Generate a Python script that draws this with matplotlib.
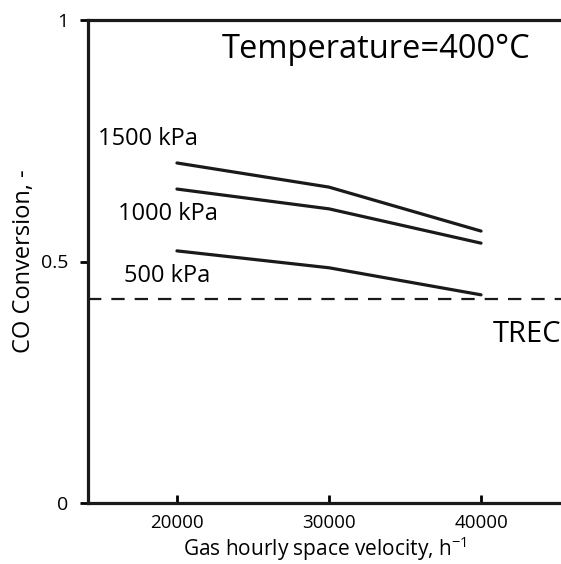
import matplotlib
matplotlib.use('Agg')
import matplotlib.pyplot as plt

# data
ghsv = [20000, 30000, 40000]
conv_1500 = [0.704, 0.654, 0.563]
conv_1000 = [0.650, 0.609, 0.538]
conv_500 = [0.522, 0.487, 0.431]
trec = 0.422
labels = ['1500 kPa', '1000 kPa', '500 kPa']

plt.rcParams['font.family'] = ['Open Sans', 'DejaVu Sans']

fig = plt.figure(figsize=(5.61, 5.64), dpi=100)
ax = fig.add_axes([88/561, 61/564, 1 - 88/561, 483/564])

for y in (conv_1500, conv_1000, conv_500):
    ax.plot(ghsv, y, color='#1a1a1a', lw=2.3, solid_capstyle='round')
ax.axhline(trec, color='#1a1a1a', lw=1.6, ls=(0, (6, 4.5)))

ax.set_xlim(14150, 45260)
ax.set_ylim(0, 1)
ax.set_xticks(ghsv)
ax.set_yticks([0, 0.5, 1])
ax.set_yticklabels(['0', '0.5', '1'])
ax.tick_params(axis='x', direction='in', length=6, width=2, labelsize=13.5, pad=8)
ax.tick_params(axis='y', direction='out', length=6, width=2, labelsize=14, pad=8)
ax.spines['right'].set_visible(False)
for s in ('left', 'top', 'bottom'):
    ax.spines[s].set_linewidth(2.3)
    ax.spines[s].set_color('#1a1a1a')

ax.set_xlabel('Gas hourly space velocity, h$^{\\mathregular{-1}}$', fontsize=15, labelpad=2)
ax.set_ylabel('CO Conversion, -', fontsize=17, labelpad=4)

ax.text(376/561, 1 - 50/564, 'Temperature=400°C', transform=fig.transFigure,
        ha='center', va='center', fontsize=23.5)
ax.text(148/561, 1 - 139/564, labels[0], transform=fig.transFigure, ha='center', va='center', fontsize=17)
ax.text(168/561, 1 - 214/564, labels[1], transform=fig.transFigure, ha='center', va='center', fontsize=17)
ax.text(167/561, 1 - 276/564, labels[2], transform=fig.transFigure, ha='center', va='center', fontsize=17)
ax.text(493/561, 1 - 334/564, 'TREC', transform=fig.transFigure, ha='left', va='center', fontsize=21)

fig.savefig('out.png', dpi=100)
